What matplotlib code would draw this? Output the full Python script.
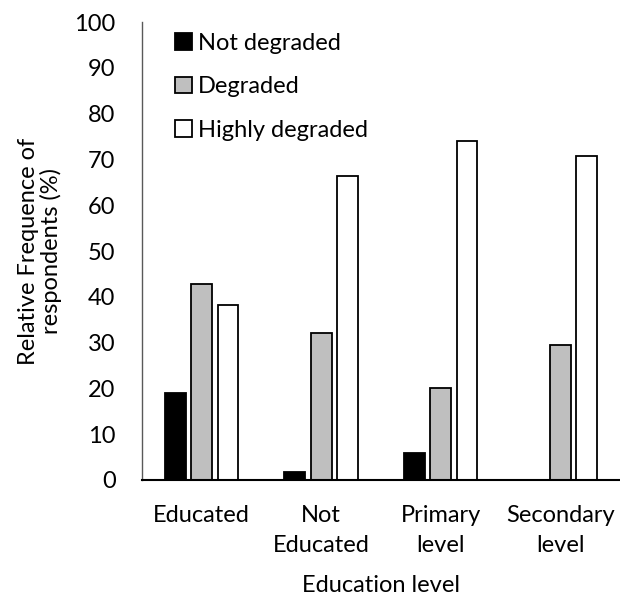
import matplotlib
matplotlib.use("Agg")
import matplotlib.pyplot as plt
import numpy as np

categories = ["Educated", "Not\nEducated", "Primary\nlevel", "Secondary\nlevel"]
series_names = ["Not degraded", "Degraded", "Highly degraded"]
not_degraded = [18.9, 1.7, 6.0, 0.0]
degraded = [42.9, 32.2, 20.1, 29.5]
highly_degraded = [38.2, 66.4, 74.1, 70.7]
yticks = [0, 10, 20, 30, 40, 50, 60, 70, 80, 90, 100]

FS = 17
plt.rcParams['font.family'] = ['Lato', 'DejaVu Sans']
fig = plt.figure(figsize=(6.2, 6.0), dpi=100)
ax = fig.add_axes([0.229, 0.2, 0.771, 0.763])

x = np.arange(len(categories))
w = 0.175
off = 0.22
colors = ["#000000", "#bfbfbf", "#ffffff"]
for i, (vals, name) in enumerate(zip([not_degraded, degraded, highly_degraded], series_names)):
    ax.bar(x + (i - 1) * off, vals, width=w, color=colors[i], edgecolor="black",
           linewidth=1.3, label=name)

ax.set_xlim(-0.5, 3.5)
ax.set_ylim(0, 100)
ax.set_yticks(yticks)
ax.set_xticks(x)
ax.set_xticklabels(categories, fontsize=FS, linespacing=1.5, va="top")
ax.tick_params(axis="y", length=0, labelsize=FS, pad=19)
ax.tick_params(axis="x", length=0, pad=18)
for s in ["top", "right"]:
    ax.spines[s].set_visible(False)
ax.spines["left"].set_color("#595959")
ax.spines["left"].set_linewidth(1.0)
ax.spines["bottom"].set_color("black")
ax.spines["bottom"].set_linewidth(1.5)

ax.set_ylabel("Relative Frequence of\nrespondents (%)", fontsize=FS, labelpad=9, linespacing=1.05)
ax.set_xlabel("Education level", fontsize=FS, labelpad=14)

leg = ax.legend(loc="upper left", bbox_to_anchor=(0.06, 0.987), frameon=False, fontsize=FS,
                handlelength=0.72, handleheight=0.72, handletextpad=0.25, labelspacing=0.95,
                borderaxespad=0.0, borderpad=0.2)

fig.savefig("out.png", dpi=100)
